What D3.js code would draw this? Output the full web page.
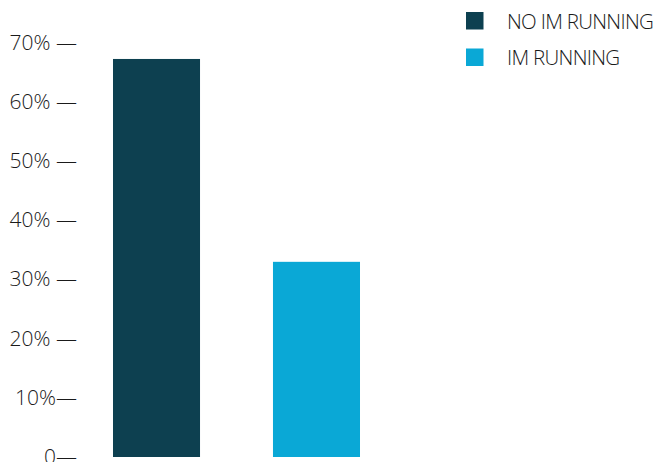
<!DOCTYPE html>
<html>
<head>
<meta charset="utf-8">
<script src="https://cdn.jsdelivr.net/npm/d3@7"></script>
<style>
  body { margin: 0; background: #fff; }
  svg { display: block; }
  text { font-family: "Open Sans", sans-serif; font-weight: 300; fill: #1a1a1a; }
</style>
</head>
<body>
<div id="chart"></div>
<script>
const categories = ["NO IM RUNNING", "IM RUNNING"];
const values = [67.3, 33.0];
const colors = ["#0d4050", "#0aa8d6"];
const tickValues = [0, 10, 20, 30, 40, 50, 60, 70];
const tickLabels = ["0—", "10%—", "20% —", "30% —", "40% —", "50% —", "60% —", "70% —"];

const width = 656, height = 462;

const svg = d3.select("#chart")
    .append("svg")
    .attr("width", width)
    .attr("height", height);

// scales
const y = d3.scaleLinear()
    .domain([0, 70])
    .range([457, 43]);

const x = d3.scaleBand()
    .domain(categories)
    .range([73, 400])
    .paddingInner(0.456)
    .paddingOuter(0.25);

// y axis: labels carry their own dash
const yAxis = svg.append("g")
    .attr("transform", "translate(77,0)")
    .call(d3.axisLeft(y)
        .tickValues(tickValues)
        .tickSize(0)
        .tickPadding(0)
        .tickFormat((d, i) => tickLabels[i]));

yAxis.select(".domain").remove();
yAxis.selectAll("text")
    .attr("font-family", null)
    .attr("font-size", null)
    .style("font-size", "21px")
    .attr("fill", null)
    .attr("dy", "0.3em");

// bars
svg.selectAll("rect.bar")
    .data(categories)
    .join("rect")
    .attr("class", "bar")
    .attr("x", d => x(d))
    .attr("width", x.bandwidth())
    .attr("y", (d, i) => y(values[i]))
    .attr("height", (d, i) => y(0) - y(values[i]))
    .attr("fill", (d, i) => colors[i]);

// legend
const legend = svg.append("g").attr("transform", "translate(466,12)");
const item = legend.selectAll("g")
    .data(categories)
    .join("g")
    .attr("transform", (d, i) => `translate(0,${i * 36.5})`);

item.append("rect")
    .attr("width", 17.5)
    .attr("height", 17.5)
    .attr("fill", (d, i) => colors[i]);

item.append("text")
    .attr("x", 41)
    .attr("y", 16.5)
    .style("font-size", "20.5px")
    .style("letter-spacing", "-0.7px")
    .text(d => d);
</script>
</body>
</html>
